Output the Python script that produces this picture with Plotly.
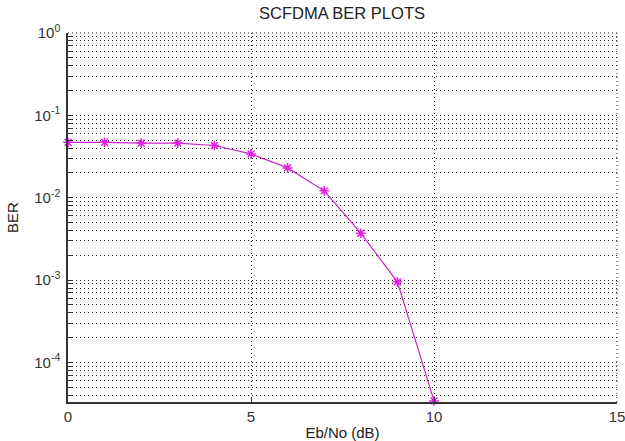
import plotly.graph_objects as go
import math

# Data
ebno_db = [0, 1, 2, 3, 4, 5, 6, 7, 8, 9, 10]
ber = [0.047, 0.047, 0.046, 0.046, 0.043, 0.034, 0.023, 0.0121, 0.0037, 0.00095, 0.000034]

x_ticks = [0, 5, 10, 15]
decades = [-5, -4, -3, -2, -1, 0]

y_tickvals = []
y_ticktext = []
for e in decades:
    for m in range(1, 10):
        v = m * 10 ** e
        if v > 1.0001:
            continue
        y_tickvals.append(v)
        y_ticktext.append(f"10<sup>{e}</sup>" if m == 1 else "")

fig = go.Figure()
fig.add_trace(go.Scatter(
    x=ebno_db, y=ber, mode="lines+markers",
    line=dict(color="#cc22cc", width=1.2),
    marker=dict(symbol="asterisk-open", size=8, color="#e020e0",
                line=dict(color="#e020e0", width=1.5)),
    showlegend=False, cliponaxis=False,
))

font = dict(family="Liberation Sans, Arial, sans-serif", size=15, color="#333")
dots = "1px,3px"

fig.update_layout(
    width=625, height=441,
    margin=dict(l=68, r=8, t=33, b=39),
    paper_bgcolor="white", plot_bgcolor="white",
    font=font,
    title=dict(text="SCFDMA BER PLOTS", x=342 / 625, xanchor="center",
               y=1 - 13 / 441, yanchor="middle", yref="container",
               font=dict(size=16.5, color="#222")),
    xaxis=dict(range=[0, 15], tickvals=x_ticks, ticktext=[str(v) for v in x_ticks],
               showgrid=True, gridcolor="#222", griddash=dots, gridwidth=1,
               showline=True, linecolor="#333", linewidth=1.5, mirror=False,
               ticks="inside", ticklen=5, tickcolor="#333", zeroline=False,
               tickfont=dict(size=15, color="#333"), ticklabeloverflow="allow",
               automargin=False,
               title=dict(text="Eb/No (dB)", standoff=4, font=dict(size=15, color="#222"))),
    yaxis=dict(type="log", range=[math.log10(3.3e-5), 0],
               tickvals=y_tickvals, ticktext=y_ticktext,
               showgrid=True, gridcolor="#222", griddash=dots, gridwidth=1,
               showline=True, linecolor="#333", linewidth=1.5,
               ticks="inside", ticklen=4, tickcolor="#333", zeroline=False,
               tickfont=dict(size=15, color="#333"), ticklabelstandoff=3,
               automargin=False,
               title=dict(text="BER", standoff=12, font=dict(size=15, color="#222"))),
)
fig.add_shape(type="line", xref="paper", yref="paper", x0=0, x1=1, y0=1, y1=1,
              line=dict(color="#222", width=1, dash=dots))
fig.add_shape(type="line", xref="paper", yref="paper", x0=1, x1=1, y0=0, y1=1,
              line=dict(color="#222", width=1, dash=dots))

fig.write_html("out.html", config={"displayModeBar": False},
               post_script="document.body.style.margin='0';document.body.style.overflow='hidden';")
